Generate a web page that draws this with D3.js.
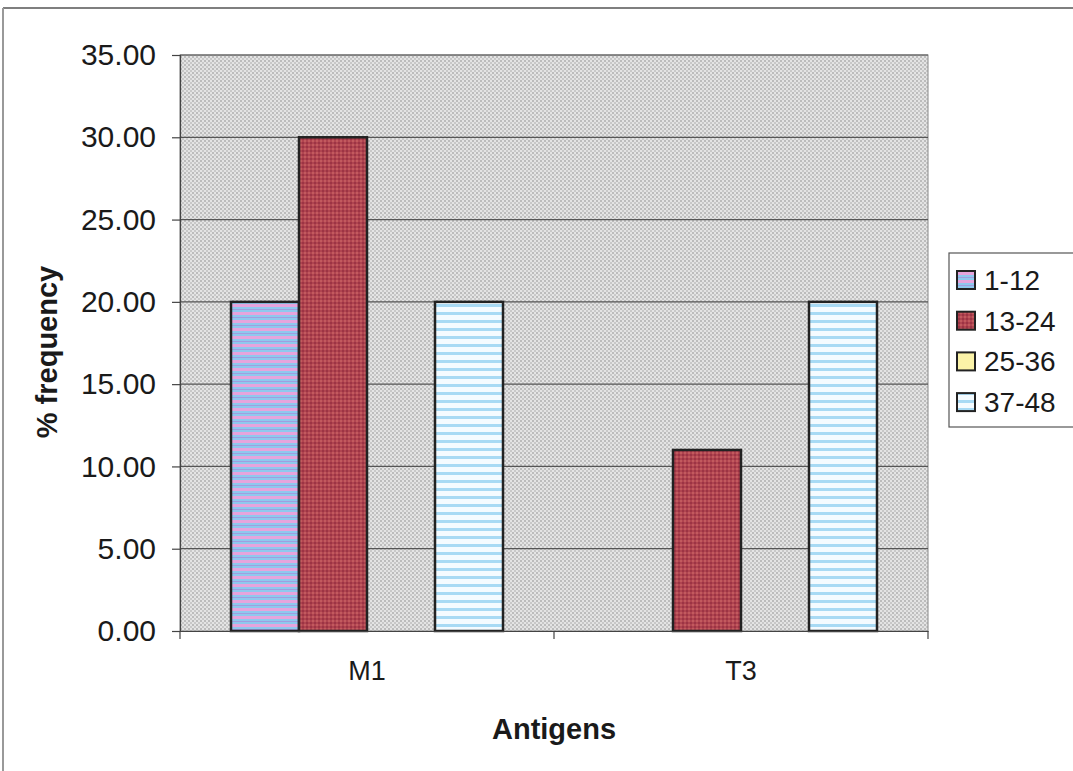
<!DOCTYPE html>
<html><head><meta charset="utf-8">
<script src="https://cdn.jsdelivr.net/npm/d3@7"></script>
<style>body{margin:0;background:#fff}svg{display:block}text{font-family:Arial,"Liberation Sans",sans-serif;fill:#1a1a1a}</style>
</head><body>
<script>
const categories = ["M1", "T3"];
const seriesNames = ["1-12", "13-24", "25-36", "37-48"];
const valuesM1 = [20, 30, 0, 20];
const valuesT3 = [0, 11, 0, 20];
const yTicks = [0, 5, 10, 15, 20, 25, 30, 35];
const values = [valuesM1, valuesT3];

(function(){
const W = 1073, H = 771;
const svg = d3.select("body").append("svg").attr("width", W).attr("height", H);
const defs = svg.append("defs");

const pBg = defs.append("pattern").attr("id","bg").attr("width",4).attr("height",4).attr("patternUnits","userSpaceOnUse");
pBg.append("rect").attr("width",4).attr("height",4).attr("fill","#e4e4e4");
pBg.append("rect").attr("x",0).attr("y",0).attr("width",2).attr("height",2).attr("fill","#bcbcbc");
pBg.append("rect").attr("x",2).attr("y",2).attr("width",2).attr("height",2).attr("fill","#c8c8c8");

const p1 = defs.append("pattern").attr("id","p1").attr("width",8).attr("height",8).attr("patternUnits","userSpaceOnUse");
p1.append("rect").attr("width",8).attr("height",8).attr("fill","#8fc8ee");
p1.append("rect").attr("y",0).attr("width",8).attr("height",3).attr("fill","#e6a4dc");
p1.append("rect").attr("y",5).attr("width",8).attr("height",1).attr("fill","#9f9fe0");

const p2 = defs.append("pattern").attr("id","p2").attr("width",4).attr("height",4).attr("patternUnits","userSpaceOnUse");
p2.append("rect").attr("width",4).attr("height",4).attr("fill","#b04450");
p2.append("rect").attr("x",0).attr("y",0).attr("width",2).attr("height",2).attr("fill","#c25a5e");
p2.append("rect").attr("x",2).attr("y",2).attr("width",2).attr("height",2).attr("fill","#9c3444");

const p3 = defs.append("pattern").attr("id","p3").attr("width",4).attr("height",4).attr("patternUnits","userSpaceOnUse");
p3.append("rect").attr("width",4).attr("height",4).attr("fill","#fbf3a8");

const p4 = defs.append("pattern").attr("id","p4").attr("width",8).attr("height",8).attr("patternUnits","userSpaceOnUse");
p4.append("rect").attr("width",8).attr("height",8).attr("fill","#f4fbff");
p4.append("rect").attr("y",0).attr("width",8).attr("height",3).attr("fill","#a8daf4");

const fills = ["url(#p1)","url(#p2)","url(#p3)","url(#p4)"];

svg.append("line").attr("x1",3).attr("x2",W).attr("y1",8).attr("y2",8).attr("stroke","#555").attr("stroke-width",1.5);
svg.append("line").attr("x1",3).attr("x2",3).attr("y1",8).attr("y2",H).attr("stroke","#999").attr("stroke-width",2);

const pl = 180, pr = 928, pt = 55, pb = 631;
const x0 = d3.scaleBand().domain(categories).range([pl, pr]).paddingInner(0).paddingOuter(0);
const x1 = d3.scaleBand().domain(seriesNames).range([0, x0.bandwidth()]).paddingOuter(0.75);
const y = d3.scaleLinear().domain([0, 35]).range([pb, pt]);

svg.append("rect").attr("x",pl).attr("y",pt).attr("width",pr-pl).attr("height",pb-pt)
  .attr("fill","url(#bg)").attr("stroke","#888").attr("stroke-width",1);

svg.append("g").selectAll("line").data(yTicks.filter(d=>d>0)).join("line")
  .attr("x1",pl).attr("x2",pr).attr("y1",d=>y(d)).attr("y2",d=>y(d))
  .attr("stroke","#555").attr("stroke-width",1.2);

const g = svg.append("g");
categories.forEach((c, ci) => {
  seriesNames.forEach((s, si) => {
    const v = values[ci][si];
    if (v <= 0) return;
    g.append("rect").attr("x", x0(c) + x1(s)).attr("y", y(v))
      .attr("width", x1.bandwidth()).attr("height", y(0) - y(v))
      .attr("fill", fills[si]).attr("stroke","#222").attr("stroke-width",2.5);
  });
});

const yAxis = d3.axisLeft(y).tickValues(yTicks).tickFormat(d3.format(".2f")).tickSize(8).tickPadding(16);
const ya = svg.append("g").attr("transform",`translate(${pl},0)`).call(yAxis);
ya.select(".domain").attr("stroke","#444").attr("stroke-width",1.2);
ya.selectAll(".tick line").attr("stroke","#444").attr("stroke-width",1.2);
ya.selectAll("text").attr("font-size",30).attr("font-family","Arial, 'Liberation Sans', sans-serif").style("fill","#1a1a1a");

const xAxis = d3.axisBottom(x0).tickSize(0).tickPadding(30);
const xa = svg.append("g").attr("transform",`translate(0,${pb})`).call(xAxis);
xa.select(".domain").attr("stroke","#444").attr("stroke-width",1.2);
xa.selectAll("text").attr("font-size",27).attr("font-family","Arial, 'Liberation Sans', sans-serif").style("fill","#1a1a1a");
svg.append("g").selectAll("line").data([pl, pl + x0.bandwidth(), pr]).join("line")
  .attr("x1",d=>d).attr("x2",d=>d).attr("y1",pb).attr("y2",pb+8)
  .attr("stroke","#444").attr("stroke-width",1.2);

svg.append("text").attr("x",(pl+pr)/2).attr("y",739).attr("text-anchor","middle")
  .attr("font-size",29).attr("font-weight","bold").text("Antigens");
svg.append("text").attr("transform","translate(57,352) rotate(-90)").attr("text-anchor","middle")
  .attr("font-size",29).attr("font-weight","bold").text("% frequency");

const lg = svg.append("g");
lg.append("rect").attr("x",949).attr("y",253).attr("width",130).attr("height",174)
  .attr("fill","#fff").attr("stroke","#555").attr("stroke-width",1.2);
seriesNames.forEach((s, i) => {
  const cy = 280 + i * 40.7;
  lg.append("rect").attr("x",957).attr("y",cy-9).attr("width",18).attr("height",18)
    .attr("fill",fills[i]).attr("stroke","#222").attr("stroke-width",2);
  lg.append("text").attr("x",984).attr("y",cy+10).attr("font-size",28).text(s);
});
})();
</script>
</body></html>
